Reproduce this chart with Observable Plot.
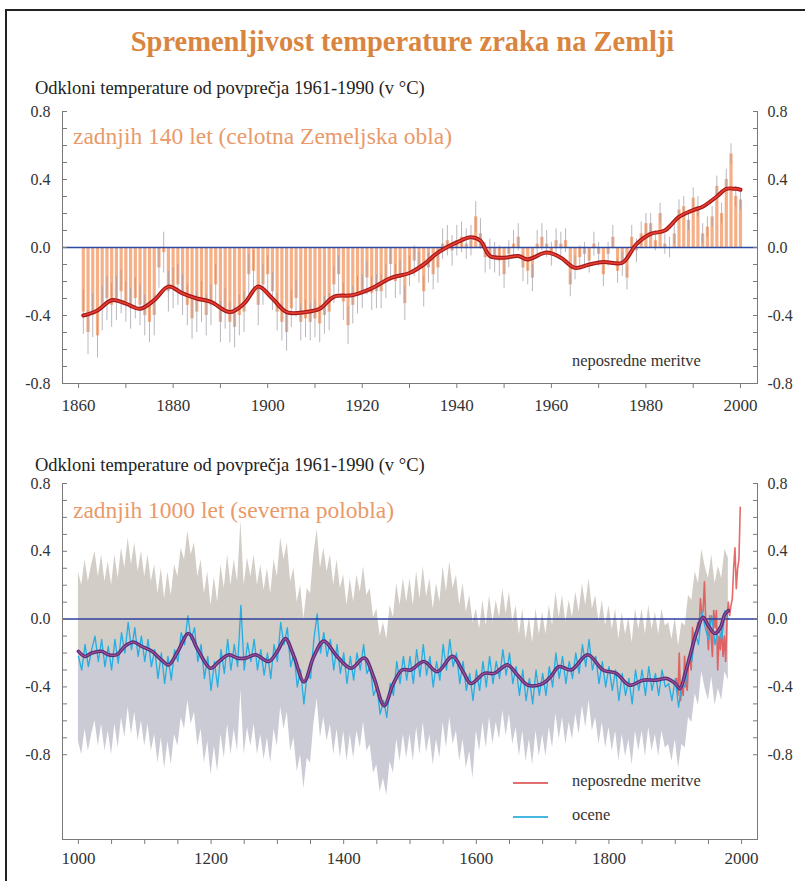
<!DOCTYPE html>
<html><head><meta charset="utf-8">
<script src="https://cdn.jsdelivr.net/npm/d3@7"></script>
<script src="https://cdn.jsdelivr.net/npm/@observablehq/plot@0.6"></script>
<style>
html,body{margin:0;padding:0;background:#fff;overflow:hidden;}
#wrap{position:relative;width:805px;height:881px;overflow:hidden;font-family:"Liberation Serif","Times New Roman",serif;}
.abs{position:absolute;white-space:nowrap;line-height:1;font-family:"Liberation Serif","Times New Roman",serif;}
#frame{position:absolute;left:5px;top:9px;width:900px;height:1000px;border-left:2px solid #222;border-top:2px solid #222;}
.title{left:0;width:805px;text-align:center;top:28px;font-size:28.5px;font-weight:bold;color:#d98540;}
.sub{left:35px;font-size:18.5px;color:#222;}
.panel{left:73px;font-size:23.5px;color:#e99a6a;}
.note{font-size:16.4px;color:#333;}
.sw{position:absolute;height:2px;}
</style></head><body>
<div id="wrap">
  <div id="frame"></div>
  <div id="p1" class="abs" style="left:0;top:100px"></div>
  <div id="p2" class="abs" style="left:0;top:470px"></div>
  <div class="abs title">Spremenljivost temperature zraka na Zemlji</div>
  <div class="abs sub" style="top:79px">Odkloni temperature od povprečja 1961-1990 (v °C)</div>
  <div class="abs sub" style="top:456px">Odkloni temperature od povprečja 1961-1990 (v °C)</div>
  <div class="abs panel" style="top:125px">zadnjih 140 let (celotna Zemeljska obla)</div>
  <div class="abs panel" style="top:499px">zadnjih 1000 let (severna polobla)</div>
  <div class="abs note" style="left:572px;top:353px">neposredne meritve</div>
  <div class="sw" style="left:513px;top:782px;width:35px;background:#e07070"></div>
  <div class="sw" style="left:513px;top:816px;width:35px;background:#45b8e0"></div>
  <div class="abs note" style="left:572px;top:773px">neposredne meritve</div>
  <div class="abs note" style="left:572px;top:807px">ocene</div>
</div>
<script>
// ---------- Top panel: annual global anomalies 1861-2000 ----------
const topStart = 1861;
const topValues = [
 -0.38,-0.50,-0.40,-0.52,-0.36,-0.30,-0.34,-0.30,-0.26,-0.32,
 -0.36,-0.30,-0.34,-0.40,-0.44,-0.40,-0.12,-0.03,-0.26,-0.24,
 -0.22,-0.28,-0.34,-0.42,-0.38,-0.32,-0.40,-0.34,-0.22,-0.44,
 -0.36,-0.44,-0.47,-0.40,-0.38,-0.16,-0.14,-0.34,-0.22,-0.16,
 -0.26,-0.38,-0.44,-0.50,-0.36,-0.30,-0.44,-0.42,-0.44,-0.42,
 -0.45,-0.40,-0.38,-0.22,-0.16,-0.32,-0.46,-0.34,-0.28,-0.26,
 -0.18,-0.27,-0.26,-0.26,-0.20,-0.10,-0.20,-0.18,-0.33,-0.14,
 -0.08,-0.12,-0.26,-0.12,-0.16,-0.12,0.02,0.04,-0.02,0.04,
 0.06,0.02,0.04,0.18,0.08,-0.06,-0.04,-0.06,-0.08,-0.16,
 -0.04,0.02,0.06,-0.12,-0.14,-0.18,0.02,0.06,0.02,-0.04,
 0.04,0.02,0.04,-0.22,-0.12,-0.06,-0.04,-0.08,0.02,-0.04,
 -0.16,-0.04,0.06,-0.14,-0.10,-0.18,0.06,-0.02,0.08,0.14,
 0.14,0.04,0.20,0.02,0.00,0.08,0.22,0.24,0.16,0.29,
 0.24,0.08,0.12,0.18,0.36,0.20,0.40,0.55,0.30,0.28
];
// two-sigma uncertainty of the annual values, by decade
const errDecadeStart = [1860,1870,1880,1890,1900,1910,1920,1930,1940,1950,1960,1970,1980,1990,2000];
const errDecadeHalf  = [0.13,0.12,0.12,0.12,0.11,0.11,0.10,0.09,0.09,0.08,0.07,0.07,0.06,0.06,0.06];
// smoothed curve
const topSmoothYears = [1861,1864,1867,1870,1873,1876,1879,1882,1885,1888,1892,1895,1898,1901,1904,1908,1911,1914,1918,1922,1926,1930,1933,1936,1940,1943,1945,1947,1950,1953,1955,1959,1962,1965,1968,1971,1975,1978,1981,1984,1987,1990,1992,1995,1997,1999,2000];
const topSmoothVals  = [-0.40,-0.37,-0.31,-0.33,-0.36,-0.31,-0.23,-0.27,-0.30,-0.32,-0.38,-0.33,-0.23,-0.30,-0.38,-0.38,-0.36,-0.29,-0.28,-0.24,-0.18,-0.15,-0.10,-0.03,0.03,0.06,0.04,-0.05,-0.06,-0.05,-0.07,-0.03,-0.06,-0.12,-0.10,-0.085,-0.09,0.02,0.08,0.10,0.18,0.22,0.24,0.30,0.345,0.345,0.34];

// ---------- Bottom panel: NH reconstruction 1000-1980 (5-year samples) ----------
const reconStart = 1000, reconStep = 5;
const reconValues = [
 -0.22,-0.30,-0.15,-0.28,-0.18,-0.10,-0.25,-0.12,-0.28,-0.16,
 -0.30,-0.12,-0.26,-0.08,-0.20,-0.02,-0.18,-0.05,-0.22,-0.10,
 -0.25,-0.12,-0.28,-0.18,-0.35,-0.20,-0.38,-0.22,-0.36,-0.18,
 -0.25,-0.08,-0.15,0.02,-0.12,-0.05,-0.25,-0.15,-0.35,-0.22,
 -0.42,-0.25,-0.40,-0.18,-0.32,-0.12,-0.30,-0.15,-0.28,0.08,
 -0.30,-0.14,-0.25,-0.12,-0.30,-0.18,-0.33,-0.20,-0.35,-0.15,
 -0.25,-0.02,-0.15,-0.05,-0.28,-0.20,-0.40,-0.30,-0.50,-0.32,
 -0.35,-0.12,0.03,-0.20,-0.08,-0.22,-0.12,-0.30,-0.15,-0.32,
 -0.20,-0.38,-0.22,-0.36,-0.20,-0.30,-0.15,-0.32,-0.28,-0.45,
 -0.40,-0.56,-0.48,-0.58,-0.38,-0.45,-0.25,-0.38,-0.22,-0.36,
 -0.22,-0.38,-0.18,-0.34,-0.15,-0.33,-0.22,-0.40,-0.25,-0.36,
 -0.15,-0.30,-0.12,-0.28,-0.20,-0.38,-0.25,-0.42,-0.32,-0.48,
 -0.30,-0.42,-0.25,-0.40,-0.22,-0.38,-0.25,-0.35,-0.18,-0.33,
 -0.20,-0.38,-0.28,-0.45,-0.30,-0.48,-0.35,-0.50,-0.30,-0.45,
 -0.32,-0.45,-0.28,-0.40,-0.20,-0.35,-0.22,-0.38,-0.25,-0.35,
 -0.20,-0.32,-0.15,-0.28,-0.12,-0.30,-0.22,-0.38,-0.25,-0.40,
 -0.28,-0.42,-0.30,-0.48,-0.32,-0.45,-0.35,-0.50,-0.30,-0.42,
 -0.30,-0.45,-0.28,-0.42,-0.32,-0.45,-0.30,-0.40,-0.38,-0.48,
 -0.35,-0.52,-0.38,-0.40,-0.22,-0.25,-0.08,-0.15,0.05,-0.05,
 -0.12,0.02,-0.15,-0.05,-0.12,0.05,0.00
];
// two-sigma uncertainty of the reconstruction, by calibration period
const reconErrFrom = [1000, 1400, 1600];
const reconErrHalf = [0.50, 0.46, 0.36];
// smoothed reconstruction
const reconSmoothYears = [1000,1010,1020,1035,1045,1058,1070,1083,1095,1111,1125,1136,1150,1166,1180,1199,1212,1227,1240,1252,1267,1287,1300,1312,1325,1340,1355,1370,1390,1411,1431,1445,1461,1475,1488,1501,1521,1541,1564,1580,1592,1612,1627,1647,1662,1678,1700,1712,1725,1743,1768,1791,1811,1831,1851,1871,1887,1900,1907,1915,1922,1932,1942,1950,1960,1968,1975,1980];
const reconSmoothVals  = [-0.19,-0.22,-0.20,-0.19,-0.21,-0.21,-0.16,-0.135,-0.16,-0.19,-0.24,-0.27,-0.19,-0.085,-0.18,-0.29,-0.25,-0.21,-0.23,-0.23,-0.21,-0.25,-0.19,-0.115,-0.22,-0.37,-0.22,-0.13,-0.22,-0.29,-0.23,-0.34,-0.51,-0.38,-0.30,-0.30,-0.25,-0.31,-0.22,-0.31,-0.38,-0.32,-0.32,-0.27,-0.33,-0.39,-0.38,-0.34,-0.28,-0.30,-0.21,-0.30,-0.32,-0.39,-0.36,-0.36,-0.35,-0.38,-0.41,-0.32,-0.22,-0.08,0.01,-0.04,-0.085,-0.05,0.03,0.05];
// instrumental NH 1902-1998 (2-year samples)
const instrStart = 1902, instrStep = 2;
const instrValues = [-0.35,-0.45,-0.20,-0.48,-0.40,-0.45,-0.22,-0.35,-0.42,-0.25,-0.22,-0.30,-0.05,-0.15,-0.10,-0.08,-0.02,-0.05,0.12,0.02,0.05,0.22,-0.02,-0.05,-0.18,0.02,-0.10,-0.22,0.05,-0.05,0.05,-0.30,-0.10,-0.18,-0.05,-0.22,-0.10,-0.25,0.00,0.10,0.02,0.08,0.12,0.30,0.42,0.18,0.30,0.35,0.66];

// ---------- ticks ----------
const yLabelTicks = [-0.8,-0.4,0,0.4,0.8];
const yMinorTicks = [-0.8,-0.7,-0.6,-0.5,-0.4,-0.3,-0.2,-0.1,0,0.1,0.2,0.3,0.4,0.5,0.6,0.7,0.8];
const topXLabels = [1860,1880,1900,1920,1940,1960,1980,2000];
const topXMinor = [1860,1870,1880,1890,1900,1910,1920,1930,1940,1950,1960,1970,1980,1990,2000];
const botXLabels = [1000,1200,1400,1600,1800,2000];
const botXMinor = [1000,1050,1100,1150,1200,1250,1300,1350,1400,1450,1500,1550,1600,1650,1700,1750,1800,1850,1900,1950,2000];

// ---------- tables ----------
const topData = topValues.map((v, i) => {
  const year = topStart + i;
  let k = 0; for (let j = 0; j < errDecadeStart.length; j++) if (year >= errDecadeStart[j]) k = j;
  return {year, value: v, err: errDecadeHalf[k]};
});
const topSmooth = topSmoothYears.map((y, i) => ({year: y, value: topSmoothVals[i]}));
const recon = reconValues.map((v, i) => {
  const year = reconStart + i * reconStep;
  let k = 0; for (let j = 0; j < reconErrFrom.length; j++) if (year >= reconErrFrom[j]) k = j;
  return {year, value: v, err: reconErrHalf[k]};
});
const reconSmooth = reconSmoothYears.map((y, i) => ({year: y, value: reconSmoothVals[i]}));
const instr = instrValues.map((v, i) => ({year: instrStart + i * instrStep, value: v}));

const serif = '"Liberation Serif", "Times New Roman", serif';
const fmtY = d => d.toFixed(1);
const axisColor = "#7a7a7a";

function axes(xLabels, xMinor, xPad) {
  return [
    Plot.frame({anchor: "left", stroke: axisColor}),
    Plot.frame({anchor: "right", stroke: axisColor}),
    Plot.frame({anchor: "bottom", stroke: axisColor}),
    Plot.axisY(yMinorTicks, {anchor: "left", label: null, tickSize: -5, tickFormat: () => "", stroke: axisColor}),
    Plot.axisY(yMinorTicks, {anchor: "right", label: null, tickSize: -5, tickFormat: () => "", stroke: axisColor}),
    Plot.axisY(yLabelTicks, {anchor: "left", label: null, tickSize: 0, tickPadding: 12, tickFormat: fmtY, fill: "#333", fontSize: 16, fontFamily: serif}),
    Plot.axisY(yLabelTicks, {anchor: "right", label: null, tickSize: 0, tickPadding: 10, tickFormat: fmtY, fill: "#333", fontSize: 16, fontFamily: serif}),
    Plot.axisX(xMinor, {anchor: "bottom", label: null, tickSize: 5, tickFormat: () => "", stroke: axisColor}),
    Plot.axisX(xLabels, {anchor: "bottom", label: null, tickSize: 0, tickPadding: xPad, tickFormat: d => String(d), fill: "#333", fontSize: 17, fontFamily: serif})
  ];
}

const p1 = Plot.plot({
  width: 805, height: 330,
  marginTop: 11, marginBottom: 47, marginLeft: 62, marginRight: 48,
  style: {fontFamily: serif, background: "transparent", overflow: "visible"},
  x: {domain: [1856.6, 2003.6], label: null},
  y: {domain: [-0.8, 0.8], label: null},
  marks: [
    Plot.ruleX(topData, {x: "year", y1: 0, y2: "value", stroke: "#f6b088", strokeWidth: 3.2}),
    Plot.ruleX(topData, {x: "year", y1: d => d.value - d.err, y2: d => d.value + d.err, stroke: "#9d97a3", strokeWidth: 1, strokeOpacity: 0.7}),
    Plot.ruleY([0], {stroke: "#2d4aa0", strokeWidth: 1.5}),
    Plot.line(topSmooth, {x: "year", y: "value", curve: "catmull-rom", stroke: "#a3161b", strokeWidth: 4}),
    Plot.line(topSmooth, {x: "year", y: "value", curve: "catmull-rom", stroke: "#e8402f", strokeWidth: 1.6}),
    ...axes(topXLabels, topXMinor, 15)
  ]
});
document.getElementById("p1").appendChild(p1);

const p2 = Plot.plot({
  width: 805, height: 411,
  marginTop: 13, marginBottom: 42, marginLeft: 62, marginRight: 48,
  style: {fontFamily: serif, background: "transparent", overflow: "visible"},
  x: {domain: [976, 2024], label: null},
  y: {domain: [-1.3, 0.8], label: null},
  marks: [
    Plot.areaY(recon, {x: "year", y1: "value", y2: d => d.value + d.err, fill: "#d3cdc7"}),
    Plot.areaY(recon, {x: "year", y1: d => d.value - d.err, y2: "value", fill: "#cbcbd5"}),
    Plot.line(instr, {x: "year", y: "value", stroke: "#e05050", strokeWidth: 1.6, strokeOpacity: 0.85}),
    Plot.line(recon, {x: "year", y: "value", stroke: "#2aaee0", strokeWidth: 1.4}),
    Plot.ruleY([0], {stroke: "#2d3f9e", strokeWidth: 1.5}),
    Plot.line(reconSmooth, {x: "year", y: "value", curve: "catmull-rom", stroke: "#52307e", strokeWidth: 3.6}),
    Plot.line(reconSmooth, {x: "year", y: "value", curve: "catmull-rom", stroke: "#b05090", strokeWidth: 1.1}),
    ...axes(botXLabels, botXMinor, 12)
  ]
});
document.getElementById("p2").appendChild(p2);
</script>
</body></html>
